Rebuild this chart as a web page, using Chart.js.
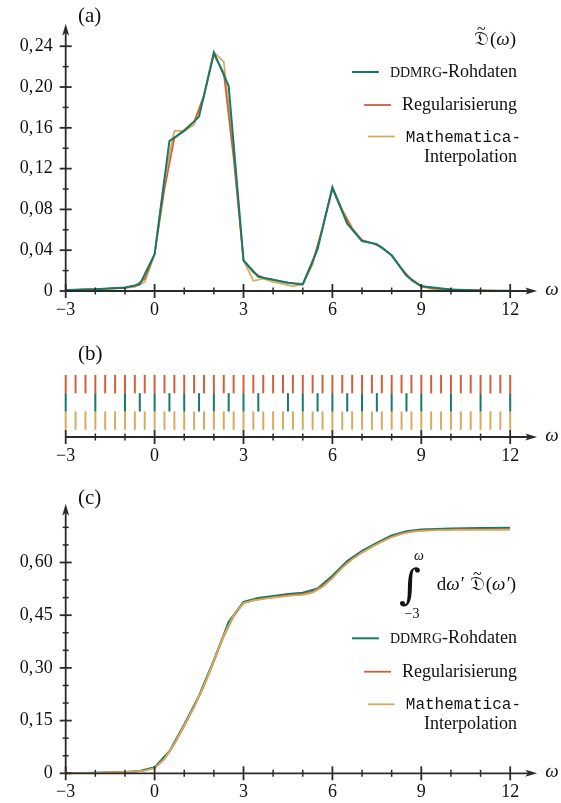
<!DOCTYPE html>
<html>
<head>
<meta charset="utf-8">
<script src="https://cdn.jsdelivr.net/npm/chart.js@4.4.0/dist/chart.umd.min.js"></script>
<style>
  html, body { margin: 0; padding: 0; background: #fff; }
  #wrap { position: relative; width: 561px; height: 803px; }
  canvas { position: absolute; left: 0; }
</style>
</head>
<body>
<div id="wrap">
  <canvas id="ca" width="561" height="325" style="top:0px"></canvas>
  <canvas id="cb" width="561" height="135" style="top:335px"></canvas>
  <canvas id="cc" width="561" height="323" style="top:480px"></canvas>
</div>
<script>
// --- data ---
// DDMRG raw data points (omega)
const rawOmega = [-3, -2, -1, -0.5, 0, 0.5, 1, 1.5, 2, 2.5, 3, 3.5, 4.5, 5, 5.5, 6, 6.5, 7, 7.5, 8, 8.5, 9, 10, 11, 12];
const rawSpectral = [0.001, 0.0018, 0.0034, 0.0065, 0.036, 0.147, 0.157, 0.171, 0.234, 0.201, 0.030, 0.014, 0.008, 0.0065, 0.041, 0.1017, 0.066, 0.049, 0.046, 0.035, 0.015, 0.0047, 0.0015, 0.0005, 0.0002];
const rawIntegral = [0, 0.0015, 0.004, 0.0064, 0.017, 0.063, 0.139, 0.221, 0.322, 0.431, 0.488, 0.499, 0.510, 0.514, 0.526, 0.562, 0.604, 0.633, 0.656, 0.677, 0.689, 0.694, 0.697, 0.698, 0.6985];

// regularised / interpolated grid (omega)
const gridOmega = [-3, -2.667, -2.333, -2, -1.667, -1.333, -1, -0.667, -0.333, 0, 0.333, 0.667, 1, 1.333, 1.667, 2, 2.333, 2.667, 3, 3.333, 3.667, 4, 4.333, 4.667, 5, 5.333, 5.667, 6, 6.333, 6.667, 7, 7.333, 7.667, 8, 8.333, 8.667, 9, 9.333, 9.667, 10, 10.333, 10.667, 11, 11.333, 11.667, 12];
const regSpectral = [0.001, 0.0012, 0.0015, 0.0018, 0.0022, 0.0026, 0.003, 0.005, 0.012, 0.036, 0.100, 0.150, 0.158, 0.166, 0.192, 0.232, 0.214, 0.130, 0.030, 0.018, 0.013, 0.011, 0.009, 0.0075, 0.007, 0.028, 0.062, 0.100, 0.078, 0.061, 0.050, 0.047, 0.043, 0.035, 0.022, 0.011, 0.005, 0.003, 0.002, 0.0015, 0.001, 0.0008, 0.0006, 0.0004, 0.0002, 0.0001];
const mmaSpectral = [0.001, 0.0012, 0.0015, 0.0018, 0.0022, 0.0026, 0.003, 0.004, 0.009, 0.036, 0.110, 0.157, 0.157, 0.163, 0.190, 0.234, 0.225, 0.140, 0.030, 0.010, 0.012, 0.009, 0.007, 0.0045, 0.0065, 0.026, 0.062, 0.102, 0.080, 0.062, 0.049, 0.047, 0.043, 0.035, 0.022, 0.010, 0.0045, 0.002, 0.001, 0.0012, 0.0008, 0.0005, 0.0003, 0.0002, 0.0001, 0];
const regIntegral = [0, 0.0005, 0.001, 0.0015, 0.0022, 0.003, 0.0038, 0.005, 0.008, 0.015, 0.040, 0.083, 0.134, 0.188, 0.249, 0.318, 0.390, 0.447, 0.484, 0.492, 0.497, 0.501, 0.505, 0.508, 0.510, 0.517, 0.533, 0.557, 0.586, 0.610, 0.629, 0.645, 0.660, 0.673, 0.682, 0.688, 0.691, 0.692, 0.693, 0.6935, 0.694, 0.694, 0.694, 0.6945, 0.6945, 0.6945];
const mmaIntegral = [0, 0.0005, 0.001, 0.0015, 0.0022, 0.003, 0.0038, 0.005, 0.0075, 0.015, 0.041, 0.085, 0.136, 0.190, 0.250, 0.320, 0.393, 0.450, 0.485, 0.492, 0.496, 0.500, 0.503, 0.506, 0.508, 0.514, 0.530, 0.555, 0.585, 0.609, 0.628, 0.644, 0.659, 0.672, 0.681, 0.687, 0.690, 0.691, 0.692, 0.6925, 0.693, 0.693, 0.693, 0.693, 0.693, 0.693];

// tick labels (math-mode comma: hair space after it)
const xTickValues = [-3, 0, 3, 6, 9, 12];
const xTickLabels = ['\u22123', '0', '3', '6', '9', '12'];
const yTickValuesA = [0, 0.04, 0.08, 0.12, 0.16, 0.20, 0.24];
const yTickLabelsA = ['0', '0,\u200a04', '0,\u200a08', '0,\u200a12', '0,\u200a16', '0,\u200a20', '0,\u200a24'];
const yTickValuesC = [0, 0.15, 0.30, 0.45, 0.60];
const yTickLabelsC = ['0', '0,\u200a15', '0,\u200a30', '0,\u200a45', '0,\u200a60'];

const TEAL = '#167a68', RED = '#d0603a', GOLD = '#d6ab5e', AXIS = '#2a2a2a', INK = '#111';
const SERIF = '"Liberation Serif", "Times New Roman", serif';
const MONO = '"Liberation Mono", monospace';
const FRAK = '"DejaVu Serif", "DejaVu Sans", serif';

const pts = (xs, ys) => xs.map((x, i) => ({ x: x, y: ys[i] }));

// draw a row of text pieces, right aligned at xRight, on baseline y; returns left edge
function runs(ctx, parts, xRight, y) {
  let total = 0;
  parts.forEach(p => { ctx.font = p.font; p.w = ctx.measureText(p.text).width; total += p.w + (p.gap || 0); });
  let x = xRight - total;
  const left = x;
  ctx.textAlign = 'left';
  ctx.textBaseline = 'alphabetic';
  parts.forEach(p => {
    ctx.font = p.font;
    ctx.fillText(p.text, x, y + (p.dy || 0));
    if (p.tilde) {
      ctx.font = '16px ' + SERIF;
      ctx.textAlign = 'center';
      ctx.fillText('~', x + p.w / 2, y - 11);
      ctx.textAlign = 'left';
    }
    x += p.w + (p.gap || 0);
  });
  return left;
}

function legendRow(ctx, parts, xRight, y, color, width) {
  const left = runs(ctx, parts, xRight, y);
  ctx.strokeStyle = color;
  ctx.lineWidth = width;
  ctx.beginPath();
  ctx.moveTo(left - 38, y - 5);
  ctx.lineTo(left - 11, y - 5);
  ctx.stroke();
}

function drawLegendEntries(ctx, yR, yG, yM, yI) {
  ctx.fillStyle = INK;
  legendRow(ctx, [{ text: 'DDMRG', font: '14px ' + SERIF }, { text: '-Rohdaten', font: '18px ' + SERIF }], 517, yR, TEAL, 2);
  legendRow(ctx, [{ text: 'Regularisierung', font: '18px ' + SERIF }], 517, yG, RED, 1.8);
  legendRow(ctx, [{ text: 'Mathematica-', font: '16px ' + MONO }], 521, yM, GOLD, 1.8);
  ctx.fillStyle = INK;
  runs(ctx, [{ text: 'Interpolation', font: '18px ' + SERIF }], 517, yI);
}

function drawAxes(chart, o) {
  const { ctx, chartArea: ca, scales } = chart;
  const xs = scales.x, ys = scales.y;
  const y0 = o.yAxis ? ys.getPixelForValue(0) : ca.bottom;
  const x0 = xs.getPixelForValue(-3);
  const xTip = xs.getPixelForValue(12) + 27;
  ctx.save();
  ctx.strokeStyle = AXIS;
  ctx.fillStyle = AXIS;
  ctx.lineWidth = 1.8;
  ctx.beginPath(); ctx.moveTo(x0, y0); ctx.lineTo(xTip - 6, y0); ctx.stroke();
  ctx.beginPath(); ctx.moveTo(xTip, y0); ctx.lineTo(xTip - 12, y0 - 3.5); ctx.lineTo(xTip - 9, y0); ctx.lineTo(xTip - 12, y0 + 3.5); ctx.closePath(); ctx.fill();
  for (let v = -3; v <= 12; v++) {
    const px = xs.getPixelForValue(v);
    const major = v % 3 === 0;
    const h = major ? 7 : 3.5;
    ctx.lineWidth = major ? 1.8 : 1.5;
    ctx.beginPath(); ctx.moveTo(px, y0 - h); ctx.lineTo(px, y0 + h); ctx.stroke();
  }
  if (o.yAxis) {
    const yTip = ca.top;
    ctx.lineWidth = 1.8;
    ctx.beginPath(); ctx.moveTo(x0, y0); ctx.lineTo(x0, yTip + 6); ctx.stroke();
    ctx.beginPath(); ctx.moveTo(x0, yTip); ctx.lineTo(x0 - 3.5, yTip + 12); ctx.lineTo(x0, yTip + 9); ctx.lineTo(x0 + 3.5, yTip + 12); ctx.closePath(); ctx.fill();
    const per = Math.round(o.yMajor / o.yMinor);
    for (let k = 0; k * o.yMinor <= o.yTop + 1e-9; k++) {
      const py = ys.getPixelForValue(k * o.yMinor);
      const major = k % per === 0;
      const h = major ? 6 : 3;
      ctx.lineWidth = major ? 1.8 : 1.5;
      ctx.beginPath(); ctx.moveTo(x0 - h, py); ctx.lineTo(x0 + h, py); ctx.stroke();
    }
  }
  ctx.fillStyle = INK;
  ctx.font = 'italic 19px ' + SERIF;
  ctx.textAlign = 'left';
  ctx.textBaseline = 'middle';
  ctx.fillText('\u03c9', xTip + 8, y0 - 1);
  ctx.font = '21px ' + SERIF;
  ctx.fillText(o.label, 78, o.labelY);
  ctx.restore();
}

function xScale(height) {
  return {
    type: 'linear', min: -3, max: 12,
    grid: { display: false, drawTicks: false }, border: { display: false },
    afterBuildTicks: s => { s.ticks = xTickValues.map(v => ({ value: v })); },
    afterFit: s => { s.height = height; },
    ticks: {
      padding: 8, color: INK, font: { family: SERIF, size: 18 },
      callback: (v, i) => xTickLabels[i]
    }
  };
}

function yScale(max, values, labels) {
  return {
    type: 'linear', min: 0, max: max,
    grid: { display: false, drawTicks: false }, border: { display: false },
    afterBuildTicks: s => { s.ticks = values.map(v => ({ value: v })); },
    afterFit: s => { s.width = 65.7; },
    ticks: {
      padding: 13, color: INK, font: { family: SERIF, size: 18 },
      callback: (v, i) => labels[i]
    }
  };
}

function lineSet(label, xs, ys, color, width) {
  return { label, data: pts(xs, ys), borderColor: color, borderWidth: width, pointRadius: 0, tension: 0, fill: false };
}

const common = {
  responsive: false, animation: false, events: [],
  plugins: { legend: { display: false }, tooltip: { enabled: false } }
};

// (a) spectral function
new Chart(document.getElementById('ca'), {
  type: 'line',
  data: {
    datasets: [
      lineSet('DDMRG-Rohdaten', rawOmega, rawSpectral, TEAL, 2),
      lineSet('Regularisierung', gridOmega, regSpectral, RED, 1.7),
      lineSet('Mathematica-Interpolation', gridOmega, mmaSpectral, GOLD, 1.7)
    ]
  },
  options: Object.assign({}, common, {
    layout: { padding: { top: 9.35, right: 50.8, left: 0, bottom: 0 } },
    scales: { x: xScale(34), y: yScale(0.262, yTickValuesA, yTickLabelsA) }
  }),
  plugins: [{
    id: 'deco',
    afterDatasetsDraw(chart) {
      drawAxes(chart, { yAxis: true, yMinor: 0.02, yMajor: 0.04, yTop: 0.24, label: '(a)', labelY: 16 });
      const ctx = chart.ctx;
      ctx.save();
      ctx.fillStyle = INK;
      runs(ctx, [
        { text: '\ud835\udd07', font: '20px ' + FRAK, tilde: true, gap: 1 },
        { text: '(', font: '19px ' + SERIF },
        { text: '\u03c9', font: 'italic 19px ' + SERIF },
        { text: ')', font: '19px ' + SERIF }
      ], 516, 45);
      drawLegendEntries(ctx, 77, 110, 141.5, 162);
      ctx.restore();
    }
  }]
});

// (b) sampling points
const ROW_REG = 2.5, ROW_RAW = 1.5, ROW_MMA = 0.5;
function tickSet(label, xs, row, color) {
  return {
    label, data: xs.map(x => ({ x: x, y: row })),
    pointStyle: 'line', rotation: 90, pointRadius: 9.2,
    borderColor: color, backgroundColor: color, pointBorderWidth: 2, borderWidth: 2, clip: false
  };
}
new Chart(document.getElementById('cb'), {
  type: 'scatter',
  data: {
    datasets: [
      tickSet('Regularisierung', gridOmega, ROW_REG, RED),
      tickSet('DDMRG-Rohdaten', rawOmega, ROW_RAW, TEAL),
      tickSet('Mathematica-Interpolation', gridOmega, ROW_MMA, GOLD)
    ]
  },
  options: Object.assign({}, common, {
    layout: { padding: { top: 40, right: 50.8, left: 65.7, bottom: 0 } },
    scales: {
      x: xScale(33),
      y: { type: 'linear', min: -0.4, max: 3, display: false }
    }
  }),
  plugins: [{
    id: 'deco',
    afterDatasetsDraw(chart) {
      drawAxes(chart, { yAxis: false, label: '(b)', labelY: 19 });
    }
  }]
});

// (c) integrated weight
new Chart(document.getElementById('cc'), {
  type: 'line',
  data: {
    datasets: [
      lineSet('Mathematica-Interpolation', gridOmega, mmaIntegral, GOLD, 1.7),
      lineSet('Regularisierung', gridOmega, regIntegral, RED, 1.7),
      lineSet('DDMRG-Rohdaten', rawOmega, rawIntegral, TEAL, 2)
    ]
  },
  options: Object.assign({}, common, {
    layout: { padding: { top: 10, right: 50.8, left: 0, bottom: 0 } },
    scales: { x: xScale(29.7), y: yScale(0.767, yTickValuesC, yTickLabelsC) }
  }),
  plugins: [{
    id: 'deco',
    afterDatasetsDraw(chart) {
      drawAxes(chart, { yAxis: true, yMinor: 0.05, yMajor: 0.15, yTop: 0.70, label: '(c)', labelY: 18 });
      const ctx = chart.ctx;
      ctx.save();
      ctx.fillStyle = INK;
      // integral sign with limits
      ctx.textAlign = 'center';
      ctx.textBaseline = 'alphabetic';
      ctx.font = '42px "DejaVu Serif", serif';
      ctx.fillText('\u222b', 410, 119);
      ctx.font = 'italic 14px ' + SERIF;
      ctx.fillText('\u03c9', 419, 80);
      ctx.font = '14px ' + SERIF;
      ctx.fillText('\u22123', 412, 138);
      runs(ctx, [
        { text: 'd', font: '19px ' + SERIF },
        { text: '\u03c9\u2032', font: 'italic 19px ' + SERIF, gap: 6 },
        { text: '\ud835\udd07', font: '20px ' + FRAK, tilde: true, gap: 1 },
        { text: '(', font: '19px ' + SERIF },
        { text: '\u03c9\u2032', font: 'italic 19px ' + SERIF },
        { text: ')', font: '19px ' + SERIF }
      ], 516, 110);
      drawLegendEntries(ctx, 163.3, 196.7, 229.3, 249.3);
      ctx.restore();
    }
  }]
});
</script>
</body>
</html>
